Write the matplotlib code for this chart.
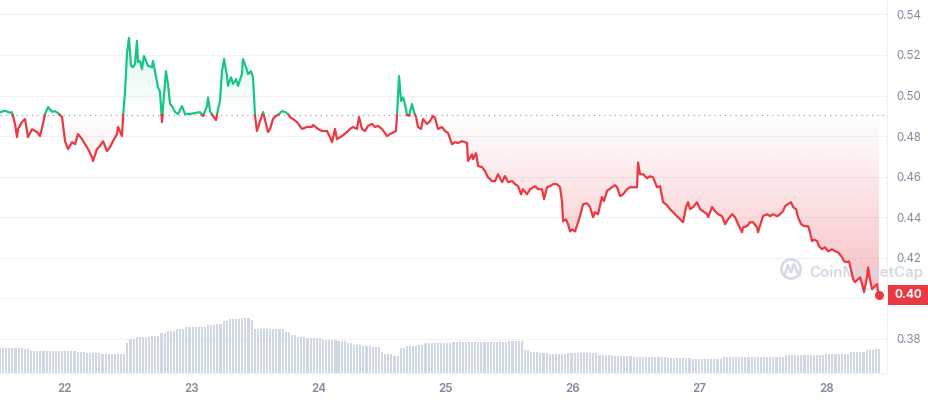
import numpy as np
import matplotlib
matplotlib.use("Agg")
import matplotlib.pyplot as plt
from matplotlib.path import Path
from matplotlib.patches import PathPatch, Rectangle, Circle
from matplotlib.lines import Line2D
from matplotlib.transforms import blended_transform_factory
from matplotlib.colors import to_rgb

# ---------------- data (time in days of month, price in USD) ----------------
TIMES = [
    21.494, 21.533, 21.573, 21.588, 21.612, 21.628, 21.636, 21.667, 21.691, 21.714,
    21.746, 21.785, 21.809, 21.832, 21.848, 21.872, 21.903, 21.927, 21.950, 21.982,
    22.006, 22.029, 22.061, 22.084, 22.108, 22.139, 22.163, 22.187, 22.218, 22.226,
    22.257, 22.281, 22.305, 22.336, 22.360, 22.383, 22.415, 22.423, 22.454, 22.462,
    22.478, 22.493, 22.509, 22.525, 22.541, 22.556, 22.572, 22.580, 22.596, 22.611,
    22.627, 22.659, 22.690, 22.698, 22.714, 22.737, 22.753, 22.769, 22.777, 22.800,
    22.816, 22.832, 22.848, 22.871, 22.895, 22.926, 22.950, 22.989, 23.029, 23.068,
    23.092, 23.123, 23.131, 23.147, 23.170, 23.194, 23.210, 23.225, 23.241, 23.257,
    23.280, 23.288, 23.312, 23.328, 23.351, 23.367, 23.398, 23.406, 23.430, 23.446,
    23.469, 23.485, 23.501, 23.516, 23.540, 23.564, 23.587, 23.603, 23.619, 23.642,
    23.666, 23.682, 23.713, 23.737, 23.760, 23.776, 23.800, 23.831, 23.871, 23.910,
    23.949, 23.957, 23.997, 24.028, 24.067, 24.091, 24.107, 24.130, 24.146, 24.185,
    24.225, 24.248, 24.272, 24.303, 24.319, 24.343, 24.366, 24.390, 24.421, 24.445,
    24.469, 24.500, 24.540, 24.563, 24.595, 24.610, 24.618, 24.634, 24.650, 24.665,
    24.681, 24.697, 24.713, 24.736, 24.752, 24.768, 24.783, 24.807, 24.823, 24.854,
    24.878, 24.902, 24.917, 24.941, 24.972, 24.996, 25.020, 25.051, 25.075, 25.098,
    25.130, 25.169, 25.177, 25.209, 25.216, 25.240, 25.256, 25.287, 25.311, 25.334,
    25.366, 25.390, 25.413, 25.445, 25.468, 25.492, 25.523, 25.547, 25.571, 25.594,
    25.610, 25.641, 25.665, 25.704, 25.728, 25.759, 25.775, 25.799, 25.822, 25.846,
    25.877, 25.901, 25.917, 25.925, 25.948, 25.964, 25.980, 25.996, 26.019, 26.043,
    26.058, 26.082, 26.113, 26.137, 26.161, 26.176, 26.200, 26.231, 26.247, 26.271,
    26.294, 26.310, 26.334, 26.350, 26.373, 26.397, 26.428, 26.452, 26.476, 26.507,
    26.515, 26.530, 26.554, 26.586, 26.609, 26.633, 26.664, 26.688, 26.712, 26.735,
    26.767, 26.790, 26.822, 26.845, 26.869, 26.893, 26.908, 26.924, 26.948, 26.979,
    27.003, 27.026, 27.058, 27.066, 27.097, 27.121, 27.145, 27.176, 27.200, 27.223,
    27.255, 27.278, 27.302, 27.333, 27.341, 27.373, 27.396, 27.420, 27.451, 27.459,
    27.483, 27.498, 27.530, 27.554, 27.577, 27.609, 27.632, 27.656, 27.672, 27.695,
    27.719, 27.735, 27.758, 27.774, 27.798, 27.821, 27.853, 27.868, 27.884, 27.900,
    27.924, 27.939, 27.963, 27.986, 28.010, 28.041, 28.065, 28.089, 28.120, 28.136,
    28.159, 28.175, 28.199, 28.207, 28.222, 28.246, 28.262, 28.278, 28.293, 28.317,
    28.325, 28.340, 28.356, 28.372, 28.395, 28.403, 28.411,
]
PRICES = [
    0.4918, 0.4925, 0.4915, 0.4918, 0.4860, 0.4795, 0.4835, 0.4870, 0.4884, 0.4795,
    0.4834, 0.4820, 0.4800, 0.4860, 0.4909, 0.4943, 0.4920, 0.4923, 0.4914, 0.4894,
    0.4775, 0.4736, 0.4770, 0.4760, 0.4810, 0.4785, 0.4760, 0.4736, 0.4696, 0.4677,
    0.4736, 0.4751, 0.4775, 0.4726, 0.4746, 0.4775, 0.4810, 0.4845, 0.4800, 0.4894,
    0.5020, 0.5205, 0.5284, 0.5146, 0.5140, 0.5155, 0.5270, 0.5165, 0.5170, 0.5130,
    0.5195, 0.5146, 0.5140, 0.5170, 0.5116, 0.5040, 0.5020, 0.4869, 0.4943, 0.5120,
    0.5057, 0.4958, 0.4948, 0.4919, 0.4909, 0.4948, 0.4909, 0.4909, 0.4914, 0.4918,
    0.4899, 0.4948, 0.4990, 0.4923, 0.4899, 0.4879, 0.4933, 0.4973, 0.5120, 0.5180,
    0.5096, 0.5048, 0.5090, 0.5057, 0.5081, 0.5048, 0.5106, 0.5180, 0.5140, 0.5106,
    0.5120, 0.5090, 0.4899, 0.4825, 0.4874, 0.4919, 0.4860, 0.4820, 0.4835, 0.4884,
    0.4899, 0.4904, 0.4923, 0.4919, 0.4909, 0.4894, 0.4884, 0.4869, 0.4835, 0.4845,
    0.4845, 0.4855, 0.4835, 0.4825, 0.4825, 0.4795, 0.4770, 0.4835, 0.4785, 0.4800,
    0.4820, 0.4835, 0.4845, 0.4835, 0.4894, 0.4835, 0.4825, 0.4850, 0.4860, 0.4845,
    0.4850, 0.4835, 0.4800, 0.4810, 0.4820, 0.4825, 0.4900, 0.5096, 0.4973, 0.4990,
    0.4958, 0.4904, 0.4900, 0.4958, 0.4918, 0.4894, 0.4845, 0.4835, 0.4884, 0.4860,
    0.4874, 0.4900, 0.4890, 0.4835, 0.4845, 0.4825, 0.4815, 0.4760, 0.4770, 0.4766,
    0.4775, 0.4766, 0.4677, 0.4710, 0.4686, 0.4716, 0.4652, 0.4647, 0.4627, 0.4597,
    0.4578, 0.4578, 0.4612, 0.4573, 0.4603, 0.4573, 0.4578, 0.4563, 0.4553, 0.4513,
    0.4538, 0.4513, 0.4538, 0.4553, 0.4538, 0.4538, 0.4489, 0.4548, 0.4553, 0.4563,
    0.4563, 0.4548, 0.4474, 0.4380, 0.4390, 0.4365, 0.4330, 0.4340, 0.4330, 0.4375,
    0.4405, 0.4464, 0.4469, 0.4450, 0.4400, 0.4425, 0.4415, 0.4500, 0.4480, 0.4530,
    0.4540, 0.4548, 0.4558, 0.4548, 0.4504, 0.4513, 0.4538, 0.4548, 0.4548, 0.4548,
    0.4670, 0.4612, 0.4612, 0.4592, 0.4602, 0.4597, 0.4548, 0.4553, 0.4474, 0.4464,
    0.4440, 0.4425, 0.4405, 0.4390, 0.4375, 0.4450, 0.4474, 0.4440, 0.4450, 0.4474,
    0.4440, 0.4430, 0.4415, 0.4400, 0.4450, 0.4430, 0.4415, 0.4405, 0.4366, 0.4390,
    0.4415, 0.4400, 0.4366, 0.4326, 0.4350, 0.4356, 0.4375, 0.4375, 0.4350, 0.4326,
    0.4375, 0.4405, 0.4415, 0.4405, 0.4415, 0.4405, 0.4415, 0.4430, 0.4455, 0.4464,
    0.4474, 0.4450, 0.4440, 0.4400, 0.4366, 0.4356, 0.4356, 0.4326, 0.4282, 0.4290,
    0.4282, 0.4257, 0.4242, 0.4252, 0.4232, 0.4242, 0.4232, 0.4227, 0.4203, 0.4183,
    0.4178, 0.4183, 0.4119, 0.4094, 0.4080, 0.4094, 0.4104, 0.4070, 0.4030, 0.4104,
    0.4153, 0.4094, 0.4045, 0.4055, 0.4070, 0.4030, 0.4015,
]
BASELINE = 0.4905          # opening price of the period (dotted reference)

# volume (millions USD): consecutive bars share a level -> (level, number of bars)
VOLUME_LEVELS = [253, 240, 223, 220, 207, 197, 187, 300, 340, 363,
                 373, 397, 423, 440, 457, 480, 490, 523, 537, 547,
                 530, 437, 413, 380, 363, 347, 330, 320, 303, 280,
                 273, 263, 213, 190, 170, 247, 270, 280, 297, 303,
                 313, 323, 230, 213, 203, 187, 197, 180, 170, 157,
                 147, 140, 157, 163, 180, 190, 207, 230, 240]
VOLUME_COUNTS = [8, 2, 3, 12, 3, 5, 8, 1, 2, 5,
                 3, 2, 3, 3, 7, 3, 2, 2, 4, 3,
                 1, 10, 2, 2, 3, 5, 5, 3, 2, 3,
                 3, 3, 1, 3, 2, 2, 4, 2, 3, 6,
                 18, 5, 2, 3, 3, 6, 10, 5, 6, 11,
                 8, 10, 9, 11, 13, 8, 5, 3, 2]

DAY_TICKS = [22, 23, 24, 25, 26, 27, 28]
PRICE_TICKS = [0.38, 0.40, 0.42, 0.44, 0.46, 0.48, 0.50, 0.52, 0.54]

GREEN = "#16c784"
RED = "#ea3943"
GRID = "#eff2f5"
LABEL = "#808a9d"
VOLCOL = "#cfd6e4"

plt.rcParams["font.family"] = ["Inter", "DejaVu Sans"]

W, H = 929, 400
fig = plt.figure(figsize=(W / 100, H / 100), dpi=100)
rect = [0, 27 / H, 887 / W, 373 / H]
ax = fig.add_axes(rect)
ax.set_zorder(1)
ax.patch.set_visible(False)

XLIM = (21.494, 28.474)
YLIM = (0.3632, 0.5471)

t = np.array(TIMES)
p = np.array(PRICES)

# insert baseline crossing points so the two colours meet exactly
tt, pp = [t[0]], [p[0]]
for i in range(1, len(t)):
    a, b = p[i - 1] - BASELINE, p[i] - BASELINE
    if a * b < 0:
        tt.append(t[i - 1] + (t[i] - t[i - 1]) * a / (a - b))
        pp.append(BASELINE)
    tt.append(t[i])
    pp.append(p[i])
tt = np.array(tt)
pp = np.array(pp)


def gradient_fill(mask, color, y_lo, y_hi, a_lo, a_hi, z):
    coll = ax.fill_between(tt, pp, BASELINE, where=mask, interpolate=True,
                           color="none", lw=0)
    paths = coll.get_paths()
    coll.remove()
    if not paths:
        return
    path = Path.make_compound_path(*paths)
    patch = PathPatch(path, transform=ax.transData, fc="none", ec="none")
    ax.add_patch(patch)
    n = 256
    img = np.zeros((n, 1, 4))
    img[..., :3] = to_rgb(color)
    img[:, 0, 3] = np.linspace(a_lo, a_hi, n)
    im = ax.imshow(img, extent=[XLIM[0], XLIM[1], y_lo, y_hi], origin="lower",
                   aspect="auto", interpolation="bilinear", zorder=z)
    im.set_clip_path(patch)


gradient_fill(pp >= BASELINE, GREEN, BASELINE, 0.528, 0.0, 0.14, 2)
gradient_fill(pp <= BASELINE, RED, 0.400, BASELINE, 0.33, 0.0, 2)

above = np.where(pp >= BASELINE, pp, np.nan)
below = np.where(pp <= BASELINE, pp, np.nan)
ax.plot(tt, above, color=GREEN, lw=1.6, solid_joinstyle="round",
        solid_capstyle="round", zorder=6)
ax.plot(tt, below, color=RED, lw=1.6, solid_joinstyle="round",
        solid_capstyle="round", zorder=6)

# baseline
ax.axhline(BASELINE, color="#9aa2b1", lw=0.9, ls=(0, (1, 3.2)), zorder=3)

# last price dot & label
ax.plot([t[-1]], [p[-1]], "o", color=RED, ms=5.5, zorder=7, clip_on=False)
btr = blended_transform_factory(fig.transFigure, ax.transData)
box_h = 20 / (373 / (YLIM[1] - YLIM[0]))
ax.add_patch(Rectangle((888 / W, p[-1] - box_h / 2), 41 / W, box_h,
                       transform=btr, fc=RED, ec="none", zorder=10, clip_on=False))
ax.text(908.5 / W, p[-1], f"{p[-1]:.2f}", transform=btr, ha="center", va="center",
        color="white", fontsize=8.5, fontweight="bold", zorder=11, clip_on=False)

# watermark
wm = "#d3d9e5"
cy = 4.0 - 2.69
ax.add_artist(Circle((7.91, cy), 0.096, transform=fig.dpi_scale_trans,
                     fc="none", ec=wm, lw=1.8, zorder=4, clip_on=False))
wx = np.array([-6.0, -3.2, -0.4, 0.2, 2.6, 3.4, 6.5, 9.0]) / 100 + 7.91
wy = -np.array([5.0, -4.0, 3.0, 3.0, -4.5, -4.5, 3.5, 5.5]) / 100 + cy
ax.add_artist(Line2D(wx, wy, transform=fig.dpi_scale_trans, color=wm, lw=1.8,
                     solid_joinstyle="round", solid_capstyle="round",
                     zorder=4, clip_on=False))
ax.text(809 / W, 1 - 277.5 / H, "CoinMarketCap", transform=fig.transFigure,
        ha="left", va="baseline", fontsize=10.9, fontweight="semibold",
        color=wm, zorder=4)

ax.set_xlim(*XLIM)
ax.set_ylim(*YLIM)

ax.set_xticks(DAY_TICKS)
ax.set_xticklabels([str(d) for d in DAY_TICKS])
ax.tick_params(axis="x", length=0, pad=7.5, labelsize=8.3, labelcolor=LABEL)
for lab in ax.get_xticklabels():
    lab.set_fontweight("semibold")

ax.yaxis.tick_right()
ax.set_yticks(PRICE_TICKS)
# the 0.40 tick label is covered by the last-price box in the reference
ax.set_yticklabels(["" if abs(v - round(p[-1], 2)) < 1e-9 else f"{v:.2f}"
                    for v in PRICE_TICKS])
ax.tick_params(axis="y", length=0, pad=6.5, labelsize=8.3, labelcolor=LABEL)
ax.grid(axis="y", color=GRID, lw=0.8, zorder=0)
ax.grid(axis="x", visible=False)
ax.set_axisbelow(True)
for s in ["top", "left"]:
    ax.spines[s].set_visible(False)
for s in ["right", "bottom"]:
    ax.spines[s].set_color(GRID)
    ax.spines[s].set_linewidth(0.8)

# volume bars (separate axes, same x scale)
axv = fig.add_axes(rect, sharex=ax)
axv.set_zorder(2)
axv.patch.set_visible(False)
vol = np.repeat(VOLUME_LEVELS, VOLUME_COUNTS)
vt = np.linspace(t[0], t[-1], len(vol))
dt = (t[-1] - t[0]) / (len(vol) - 1)
axv.bar(vt, vol, width=dt * 0.68, color=VOLCOL, lw=0)
axv.set_ylim(0, 3730)
axv.set_axis_off()
ax.set_xlim(*XLIM)

fig.savefig("out.png", dpi=100)
